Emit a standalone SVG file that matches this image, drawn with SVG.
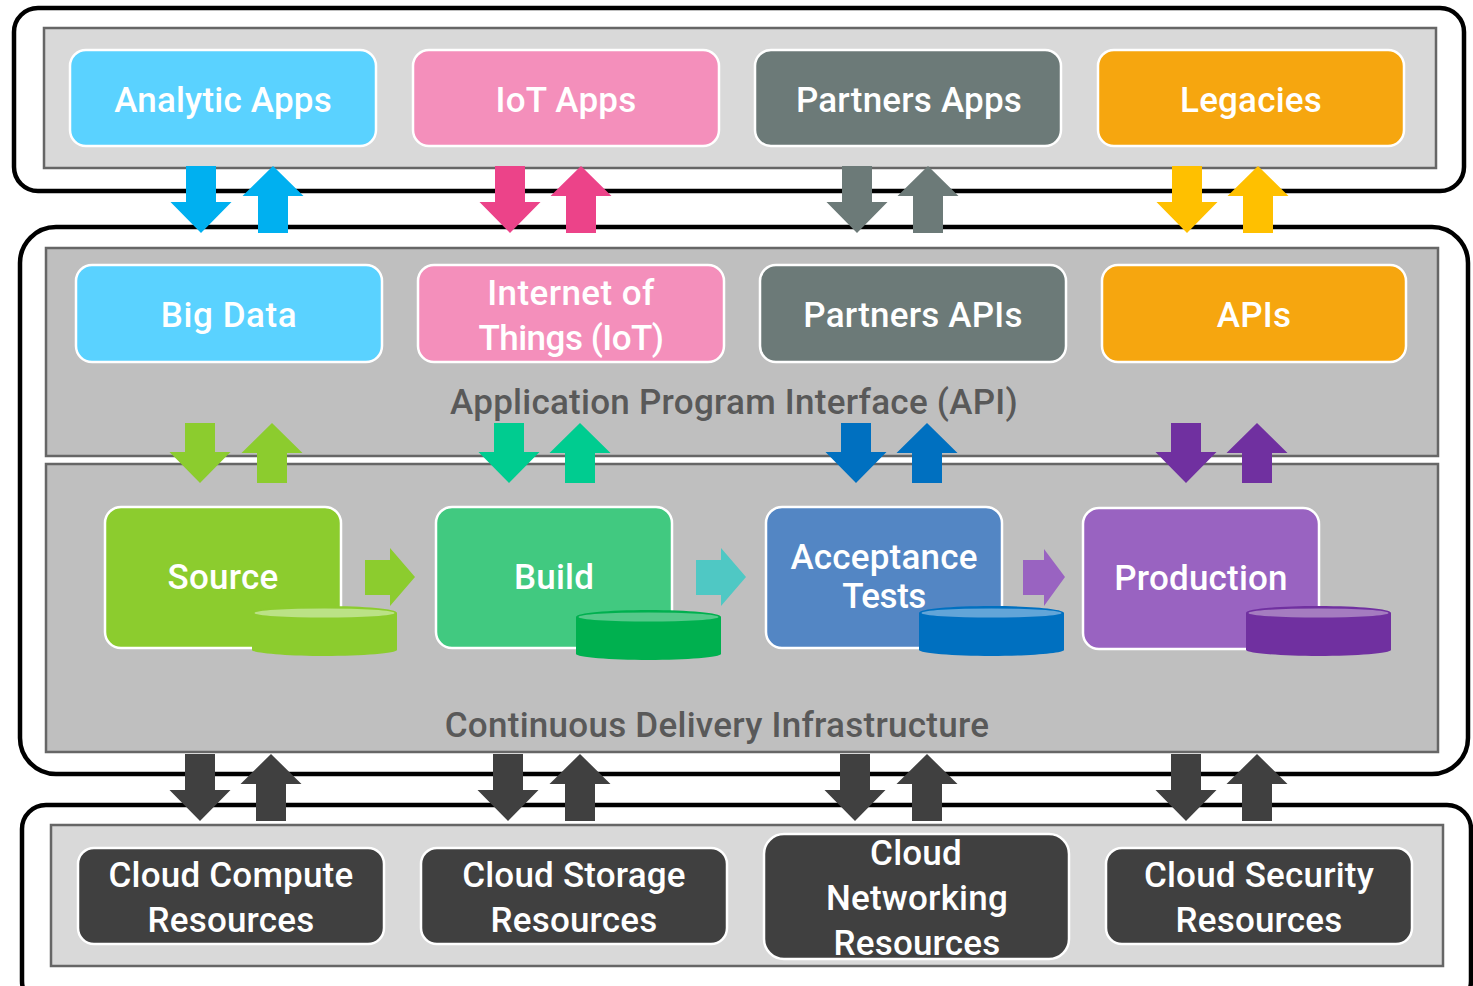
<svg xmlns="http://www.w3.org/2000/svg" xmlns:xlink="http://www.w3.org/1999/xlink" width="1473" height="986" viewBox="0 0 1473 986">
<style>
.outer{fill:#fff;stroke:#000;stroke-width:4.5}
.light{fill:#d9d9d9;stroke:#666;stroke-width:2.5}
.mid{fill:#bfbfbf;stroke:#666;stroke-width:2.5}
.node{stroke:#fff;stroke-width:2.5}
text{font-family:"Roboto","Liberation Sans",sans-serif;font-weight:500;font-size:35px;text-anchor:middle;fill:#fff;letter-spacing:.2px}
.cap{fill:#595959;letter-spacing:.26px}
.tight{letter-spacing:-.5px}
</style>
<defs>
<path id="dn" d="M-15 0H15V36H30.500L0 67L-30.500 36H-15Z"/>
<path id="up" d="M0 0L30.500 30H15V67H-15V30H-30.500Z"/>
<path id="dn2" d="M-15 0H15V29H30.500L0 60L-30.500 29H-15Z"/>
<path id="up2" d="M0 0L30.500 30H15V60H-15V30H-30.500Z"/>
<path id="rt" d="M0 12H25V0L50 29L25 58V47H0Z"/>
<path id="rt2" d="M0 12H21V1L42 29L21 58V47H0Z"/>
<path id="cyl" d="M0 7C0 3 32 0 72.500 0S145 3 145 7V44C145 47 110 50 72.500 50S0 47 0 44Z"/>
</defs>
<g id="layers">
<rect class="outer" x="14" y="8" width="1450" height="183" rx="24"/>
<rect class="light" x="44" y="28" width="1392" height="140"/>
<rect class="outer" x="20" y="227" width="1448" height="547" rx="36"/>
<rect class="mid" x="46" y="248" width="1392" height="208"/>
<rect class="mid" x="46" y="464" width="1392" height="288"/>
<rect class="outer" x="22" y="805" width="1449" height="200" rx="24"/>
<rect class="light" x="51" y="825" width="1392" height="141"/>
</g>
<g id="captions">
<text class="cap" x="734" y="414">Application Program Interface (API)</text>
<text class="cap" x="717" y="737">Continuous Delivery Infrastructure</text>
</g>
<g id="analytic-apps"><rect class="node" x="70" y="50" width="306" height="96" rx="16" fill="#5ad2ff"/><text x="223" y="112">Analytic Apps</text></g>
<g id="iot-apps"><rect class="node" x="413" y="50" width="306" height="96" rx="16" fill="#f48fbb"/><text x="566" y="112">IoT Apps</text></g>
<g id="partners-apps"><rect class="node" x="755" y="50" width="306" height="96" rx="16" fill="#6c7a78"/><text x="909" y="112">Partners Apps</text></g>
<g id="legacies"><rect class="node" x="1098" y="50" width="306" height="96" rx="16" fill="#f6a60f"/><text x="1251" y="112">Legacies</text></g>
<g id="big-data"><rect class="node" x="76" y="265" width="306" height="97" rx="16" fill="#5ad2ff"/><text x="229" y="327" style="letter-spacing:.6px">Big Data</text></g>
<g id="iot"><rect class="node" x="418" y="265" width="306" height="97" rx="16" fill="#f48fbb"/><text x="571" y="305" style="letter-spacing:.4px">Internet of</text><text class="tight" x="571" y="350">Things (IoT)</text></g>
<g id="partners-apis"><rect class="node" x="760" y="265" width="306" height="97" rx="16" fill="#6c7a78"/><text x="913" y="327">Partners APIs</text></g>
<g id="apis"><rect class="node" x="1102" y="265" width="304" height="97" rx="16" fill="#f6a60f"/><text x="1254" y="327">APIs</text></g>
<g id="source"><rect class="node" x="105" y="507" width="236" height="141" rx="16" fill="#8ccc2e"/><text x="223" y="589">Source</text>
<use href="#cyl" x="252" y="606" fill="#8ccc2e"/><ellipse cx="324.500" cy="613" rx="70" ry="4.500" fill="#bbe286"/></g>
<g id="build"><rect class="node" x="436" y="507" width="236" height="141" rx="16" fill="#41c980"/><text x="554" y="589">Build</text>
<use href="#cyl" x="576" y="610" fill="#00b04f"/><ellipse cx="648.500" cy="617" rx="70" ry="4.500" fill="#55c98a"/></g>
<g id="acceptance-tests"><rect class="node" x="766" y="507" width="236" height="141" rx="16" fill="#5386c4"/><text x="884" y="569">Acceptance</text><text class="tight" x="884" y="608">Tests</text>
<use href="#cyl" x="919" y="606" fill="#0070c0"/><ellipse cx="991.500" cy="613" rx="70" ry="4.500" fill="#62a5d8"/></g>
<g id="production"><rect class="node" x="1083" y="508" width="236" height="141" rx="16" fill="#9963c1"/><text x="1201" y="590">Production</text>
<use href="#cyl" x="1246" y="606" fill="#7030a0"/><ellipse cx="1318.500" cy="613" rx="70" ry="4.500" fill="#a57cc0"/></g>
<g id="cloud-compute"><rect class="node" x="78" y="848" width="306" height="96" rx="16" fill="#404040"/><text x="231" y="887">Cloud Compute</text><text x="231" y="932">Resources</text></g>
<g id="cloud-storage"><rect class="node" x="421" y="848" width="306" height="96" rx="16" fill="#404040"/><text x="574" y="887">Cloud Storage</text><text x="574" y="932">Resources</text></g>
<g id="cloud-networking"><rect class="node" x="764" y="834" width="305" height="125" rx="20" fill="#404040"/><text x="916" y="865">Cloud</text><text x="917" y="910">Networking</text><text x="917" y="955">Resources</text></g>
<g id="cloud-security"><rect class="node" x="1106" y="848" width="306" height="96" rx="16" fill="#404040"/><text x="1259" y="887">Cloud Security</text><text x="1259" y="932">Resources</text></g>
<g id="connectors">
<use href="#dn" x="201" y="166" fill="#00b0f0"/><use href="#up" x="273" y="166" fill="#00b0f0"/>
<use href="#dn" x="510" y="166" fill="#ec4389"/><use href="#up" x="581" y="166" fill="#ec4389"/>
<use href="#dn" x="857" y="166" fill="#6c7a78"/><use href="#up" x="928" y="166" fill="#6c7a78"/>
<use href="#dn" x="1187" y="166" fill="#ffc000"/><use href="#up" x="1258" y="166" fill="#ffc000"/>
<use href="#dn2" x="200" y="423" fill="#8ccc2e"/><use href="#up2" x="272" y="423" fill="#8ccc2e"/>
<use href="#dn2" x="509" y="423" fill="#00cc90"/><use href="#up2" x="580" y="423" fill="#00cc90"/>
<use href="#dn2" x="856" y="423" fill="#0070c0"/><use href="#up2" x="927" y="423" fill="#0070c0"/>
<use href="#dn2" x="1186" y="423" fill="#7030a0"/><use href="#up2" x="1257" y="423" fill="#7030a0"/>
<use href="#dn" x="200" y="754" fill="#404040"/><use href="#up" x="271" y="754" fill="#404040"/>
<use href="#dn" x="508" y="754" fill="#404040"/><use href="#up" x="580" y="754" fill="#404040"/>
<use href="#dn" x="855" y="754" fill="#404040"/><use href="#up" x="927" y="754" fill="#404040"/>
<use href="#dn" x="1186" y="754" fill="#404040"/><use href="#up" x="1257" y="754" fill="#404040"/>
<use href="#rt" x="365" y="548" fill="#8ccc2e"/>
<use href="#rt" x="696" y="548" fill="#4fc8c4"/>
<use href="#rt2" x="1023" y="548" fill="#9963c1"/>
</g>
</svg>
